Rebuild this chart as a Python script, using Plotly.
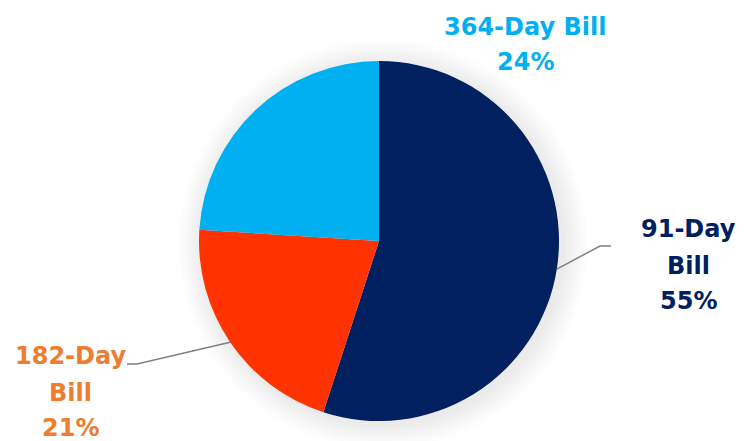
import math
import plotly.graph_objects as go

labels = ["91-Day Bill", "182-Day Bill", "364-Day Bill"]
values = [55, 21, 24]
slice_colors = ["#002060", "#FF3300", "#00B0F0"]
text_colors = ["#002060", "#ED7D31", "#00B0F0"]
label_lines = [["91-Day", "Bill", "55%"], ["182-Day", "Bill", "21%"], ["364-Day Bill", "24%"]]

W, H = 753, 441
CX, CY, R = 379, 241, 180

def px(x):
    return x / W

def py(y):
    return 1 - y / H

fig = go.Figure(go.Pie(
    labels=labels, values=values, sort=False, direction="clockwise", rotation=0,
    marker=dict(colors=slice_colors, line=dict(width=0)),
    textinfo="none", hoverinfo="label+percent",
    domain=dict(x=[px(CX - R), px(CX + R)], y=[py(CY + R), py(CY - R)]),
    showlegend=False,
))

shapes = []
# soft shadow
for k in range(10):
    rr = R + 2 + k * 2.5
    shapes.append(dict(type="circle", xref="paper", yref="paper", layer="below",
                       x0=px(CX - rr + 4), x1=px(CX + rr + 4), y0=py(CY + rr + 3), y1=py(CY - rr + 3),
                       fillcolor="rgba(0,0,0,0.009)", line=dict(width=0)))

# leader lines from mid-angles of slices
total = sum(values)
cum = 0
mids = []
for v in values:
    mids.append((cum + v / 2) / total * 2 * math.pi)
    cum += v

def edge(a):
    return CX + R * math.sin(a), CY - R * math.cos(a)

knees = {0: [(600, 246), (611, 246)], 1: [(137, 364), (127, 364)]}
for i, pts in knees.items():
    ex, ey = edge(mids[i])
    path = f"M {px(ex)},{py(ey)} L {px(pts[0][0])},{py(pts[0][1])} L {px(pts[1][0])},{py(pts[1][1])}"
    shapes.append(dict(type="path", xref="paper", yref="paper", path=path,
                       line=dict(color="#808080", width=1.5)))

label_pos = {0: (688, [229, 266, 301]), 1: (70, [356, 393, 428]), 2: (525, [27, 62])}
annotations = []
for i, lines in enumerate(label_lines):
    x, ys = label_pos[i]
    for t, y in zip(lines, ys):
        annotations.append(dict(text=f"<b>{t}</b>", x=px(x), y=py(y), xref="paper", yref="paper",
                                showarrow=False, xanchor="center", yanchor="middle",
                                font=dict(family="DejaVu Sans", size=24, color=text_colors[i])))

fig.update_layout(width=W, height=H, autosize=False, margin=dict(l=0, r=0, t=0, b=0),
                  paper_bgcolor="white", plot_bgcolor="white",
                  shapes=shapes, annotations=annotations)
fig.write_html("out.html")
